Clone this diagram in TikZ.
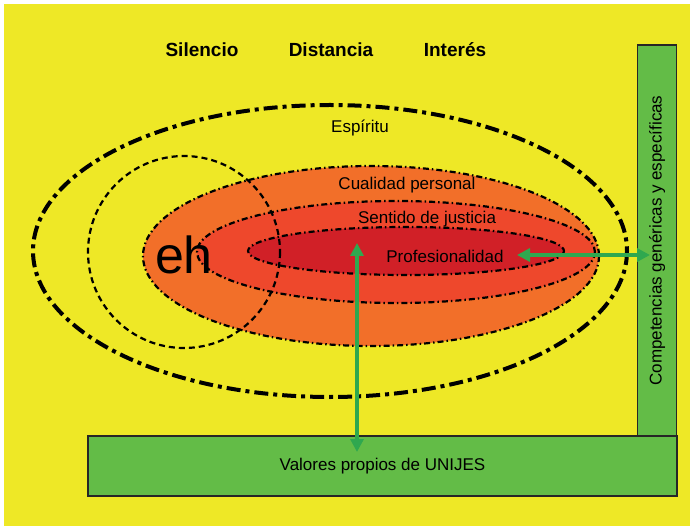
\documentclass[tikz,border=0pt]{standalone}
\usepackage{fontspec}
\setmainfont{Liberation Sans}
\usepackage{tikz}
\usetikzlibrary{positioning, arrows.meta}
\definecolor{fondo}{HTML}{EEE826}
\definecolor{verde}{HTML}{63BC47}
\definecolor{flecha}{HTML}{2FA84F}
\definecolor{naranja}{HTML}{F26F29}
\definecolor{rojo}{HTML}{EE482C}
\definecolor{rojoosc}{HTML}{D12027}

\begin{document}
\begin{tikzpicture}[x=1pt,y=-1pt,
  lbl/.style={font=\fontsize{17}{20}\selectfont},
  head/.style={font=\fontsize{19}{22}\selectfont\bfseries},
  capa/.style={line width=2.2pt, dash pattern=on 6pt off 3pt on 1.5pt off 3pt},
  caja/.style={draw=black!85, line width=1.3pt, fill=verde},
  flechas/.style={flecha, line width=3.5pt,
    {Triangle[length=13pt,width=13pt]}-{Triangle[length=13pt,width=13pt]}}]
\useasboundingbox (0,0) rectangle (690,526);
% background
\fill[fondo] (4,4) rectangle (690,526);
% filled layers
\fill[naranja] (371,256) ellipse [x radius=228, y radius=90];
\fill[rojo] (396,252) ellipse [x radius=199, y radius=51];
\fill[rojoosc] (406,251) ellipse [x radius=158, y radius=24];
% outlines
\draw[line width=4pt, dash pattern=on 14pt off 5pt on 4pt off 5pt]
  (330,251) ellipse [x radius=297, y radius=146];
\draw[capa] (371,256) ellipse [x radius=228, y radius=90];
\draw[capa] (396,252) ellipse [x radius=199, y radius=51];
\draw[capa] (406,251) ellipse [x radius=158, y radius=24];
\draw[line width=2.2pt, dash pattern=on 6pt off 4pt] (184,252) circle [radius=96];
% boxes
\node[caja, minimum width=39pt, minimum height=391pt, inner sep=0pt]
  (comp) at (657,240.5) {};
\node[caja, minimum width=589pt, minimum height=60pt, inner sep=0pt]
  (valores) at (382.5,466) {};
\node[lbl, rotate=90] (comptxt) at (comp.center) {Competencias genéricas y específicas};
\node[lbl] (valtxt) at (valores.center) {Valores propios de UNIJES};
% labels
\node[head] (sil) at (202,50) {Silencio};
\node[head] (dis) at (331,50) {Distancia};
\node[head] (int) at (455,50) {Interés};
\node[lbl] (esp) at (360,128) {Espíritu};
\node[lbl] (cual) at (407,185) {Cualidad personal};
\node[lbl] (sent) at (427,219) {Sentido de justicia};
\node[lbl] (prof) at (445,256) {Profesionalidad};
\node[font=\fontsize{52}{56}\selectfont] (eh) at (184,255) {eh};
% arrows
\coordinate (vtop) at (357,243);
\coordinate (vbot) at (357,452);
\coordinate (hizq) at (517,255);
\coordinate (hder) at (650,255);
\draw[flechas] (vtop) -- (vbot);
\draw[flechas] (hizq) -- (hder);
\end{tikzpicture}
\end{document}
